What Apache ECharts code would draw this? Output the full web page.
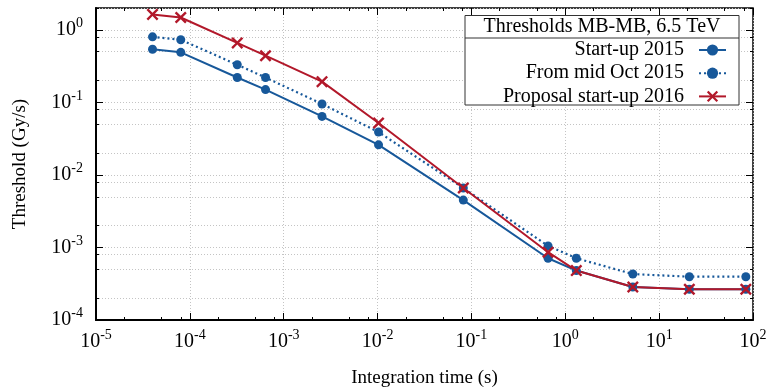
<!DOCTYPE html>
<html lang="en">
<head>
    <meta charset="UTF-8">
    <title>Thresholds MB-MB, 6.5 TeV</title>
    <script src="https://cdn.jsdelivr.net/npm/echarts@6/dist/echarts.min.js"></script>
    <style>
        body { margin: 0; background: #fff; }
        #chart { width: 770px; height: 387px; }
    </style>
</head>
<body>
    <div id="chart"></div>

    <script>
        // Integration times (s) of the running sums
        const times = [4e-5, 8e-5, 3.2e-4, 6.4e-4, 2.56e-3, 1.024e-2, 8.192e-2, 0.65536, 1.31072, 5.24288, 20.97152, 83.88608];

        // Thresholds (Gy/s)
        const startup2015 = [0.54, 0.49, 0.22, 0.15, 0.064, 0.026, 0.0045, 7.1e-4, 4.8e-4, 2.85e-4, 2.65e-4, 2.65e-4];
        const midOct2015 = [0.80, 0.73, 0.33, 0.22, 0.095, 0.039, 0.0066, 1.05e-3, 7.1e-4, 4.3e-4, 3.95e-4, 3.95e-4];
        const proposal2016 = [1.63, 1.48, 0.66, 0.44, 0.193, 0.052, 0.0066, 8.6e-4, 4.8e-4, 2.85e-4, 2.65e-4, 2.65e-4];

        // Tick positions
        const xMajorTicks = [1e-5, 1e-4, 1e-3, 1e-2, 1e-1, 1e0, 1e1, 1e2];
        const yMajorTicks = [1e-4, 1e-3, 1e-2, 1e-1, 1e0];
        const minorFactors = [2, 5, 8];

        const blue = '#17589a';
        const red = '#b2182a';
        const font = 'Liberation Serif';

        function minorTicks(decades, maxVal) {
            const out = [];
            decades.forEach(d => minorFactors.forEach(f => {
                if (d * f <= maxVal) out.push(d * f);
            }));
            return out;
        }
        const xMinorTicks = minorTicks(xMajorTicks.slice(0, -1), 100);
        const yMinorTicks = minorTicks(yMajorTicks, 2);

        const pairs = ys => times.map((t, i) => [t, ys[i]]);

        const powLabel = {
            formatter: v => '{b|10}{s|' + Math.round(Math.log10(v)) + '}',
            rich: {
                b: { fontFamily: font, fontSize: 20, color: '#000' },
                s: { fontFamily: font, fontSize: 14, color: '#000', padding: [0, 0, 13, 0] }
            }
        };
        const dotted = { show: true, lineStyle: { color: '#c4c4c4', type: [1, 2], width: 1 } };

        function axis(kind, pos, ticks, len, opts) {
            const base = kind === 'x'
                ? { min: 1e-5, max: 100 }
                : { min: 1e-4, max: 2 };
            return Object.assign({
                type: 'log',
                logBase: 10,
                position: pos,
                axisLine: { show: false, onZero: false },
                axisTick: { show: true, inside: true, length: len, customValues: ticks,
                            lineStyle: { color: '#000', width: 1 } },
                axisLabel: { show: false },
                splitLine: { show: false }
            }, base, opts || {});
        }

        const X_CROSS = 'path://M0,1.4L1.4,0L5,3.6L8.6,0L10,1.4L6.4,5L10,8.6L8.6,10L5,6.4L1.4,10L0,8.6L3.6,5Z';

        const chart = echarts.init(document.getElementById('chart'));

        const option = {
            animation: false,
            grid: {
                left: 96, right: 17, top: 8, bottom: 67,
                outerBoundsMode: 'none',
                show: true, borderColor: '#000', borderWidth: 1.5
            },
            xAxis: [
                axis('x', 'bottom', xMajorTicks, 7, {
                    name: 'Integration time (s)',
                    nameLocation: 'middle',
                    nameGap: 49,
                    nameTextStyle: { fontFamily: font, fontSize: 19, color: '#000' },
                    axisLine: { show: true, onZero: false, lineStyle: { color: '#000', width: 2 } },
                    axisLabel: Object.assign({ show: true, margin: 8, customValues: xMajorTicks }, powLabel),
                    splitLine: dotted
                }),
                axis('x', 'bottom', xMinorTicks, 3),
                axis('x', 'top', xMajorTicks, 7),
                axis('x', 'top', xMinorTicks, 3)
            ],
            yAxis: [
                axis('y', 'left', yMajorTicks, 7, {
                    name: 'Threshold (Gy/s)',
                    nameLocation: 'middle',
                    nameGap: 66,
                    nameTextStyle: { fontFamily: font, fontSize: 19, color: '#000' },
                    axisLine: { show: true, onZero: false, lineStyle: { color: '#000', width: 2 } },
                    axisLabel: Object.assign({ show: true, margin: 13, customValues: yMajorTicks }, powLabel),
                    splitLine: dotted
                }),
                axis('y', 'left', yMinorTicks, 3, { splitLine: dotted }),
                axis('y', 'right', yMajorTicks, 7),
                axis('y', 'right', yMinorTicks, 3)
            ],
            legend: {
                orient: 'vertical',
                align: 'right',
                right: 43,
                top: 40,
                padding: 0,
                itemGap: 3.2,
                itemWidth: 27,
                itemHeight: 14,
                textStyle: { fontFamily: font, fontSize: 20, color: '#000', padding: [0, 10, 0, 0] },
                data: ['Start-up 2015', 'From mid Oct 2015', 'Proposal start-up 2016']
            },
            graphic: [
                {
                    type: 'rect', z: 3,
                    shape: { x: 465, y: 15.5, width: 274, height: 89.5 },
                    style: { fill: '#fff', stroke: '#333', lineWidth: 1 }
                },
                {
                    type: 'line', z: 3,
                    shape: { x1: 465, y1: 38, x2: 739, y2: 38 },
                    style: { stroke: '#333', lineWidth: 1 }
                },
                {
                    type: 'text', z: 3,
                    x: 602, y: 27,
                    style: {
                        text: 'Thresholds MB-MB, 6.5 TeV',
                        fontFamily: font, fontSize: 20, fill: '#000',
                        textAlign: 'center', textVerticalAlign: 'middle'
                    }
                }
            ],
            series: [
                {
                    name: 'Start-up 2015',
                    type: 'line',
                    data: pairs(startup2015),
                    symbol: 'circle',
                    symbolSize: 9,
                    lineStyle: { color: blue, width: 2 },
                    itemStyle: { color: blue }
                },
                {
                    name: 'From mid Oct 2015',
                    type: 'line',
                    data: pairs(midOct2015),
                    symbol: 'circle',
                    symbolSize: 9,
                    lineStyle: { color: blue, width: 2.2, type: [2, 3] },
                    itemStyle: { color: blue }
                },
                {
                    name: 'Proposal start-up 2016',
                    type: 'line',
                    data: pairs(proposal2016),
                    symbol: X_CROSS,
                    symbolSize: 12,
                    lineStyle: { color: red, width: 2 },
                    itemStyle: { color: red }
                }
            ]
        };

        chart.setOption(option);
    </script>
</body>
</html>
